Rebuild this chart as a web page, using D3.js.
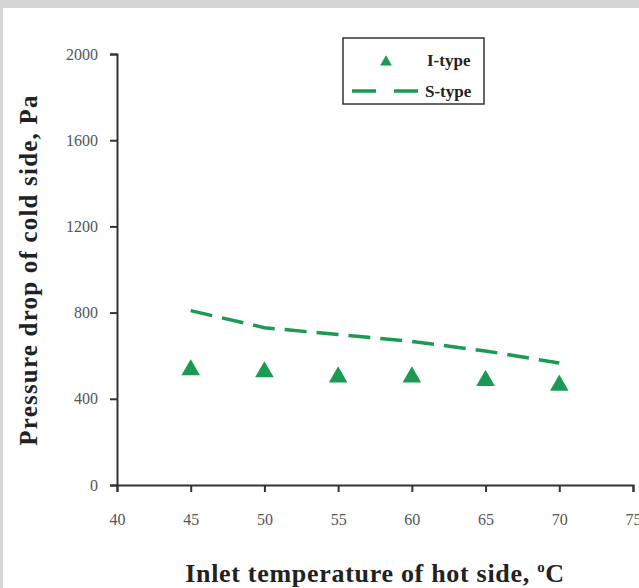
<!DOCTYPE html>
<html>
<head>
<meta charset="utf-8">
<script src="https://cdn.jsdelivr.net/npm/d3@7"></script>
<style>
  body { margin: 0; background: #fff; }
  svg { display: block; }
</style>
</head>
<body>
<div id="chart"></div>
<script>
// temperatures (x) and pressure drops (y)
var temps = [45, 50, 55, 60, 65, 70];
var iType = [543, 534, 510, 510, 494, 472];
var sType = [809, 730, 698, 666, 622, 566];
var xTicks = [40, 45, 50, 55, 60, 65, 70, 75];
var yTicks = [0, 400, 800, 1200, 1600, 2000];

var green = '#1a9a52';

var svg = d3.select('#chart').append('svg').attr('width', 639).attr('height', 588);

// grey frame of the scan
svg.append('rect').attr('width', 639).attr('height', 588).attr('fill', '#d6d6d6');
svg.append('rect').attr('x', 3).attr('y', 8).attr('width', 636).attr('height', 580).attr('fill', '#fff');

var x = d3.scaleLinear().domain([40, 75]).range([117, 633]);
var y = d3.scaleLinear().domain([0, 2000]).range([485, 54]);

// axes
var xAxis = svg.append('g').attr('transform', 'translate(0,' + y(0) + ')')
    .call(d3.axisBottom(x).tickValues(xTicks).tickFormat(d3.format('d')).tickSize(7).tickPadding(22));
var yAxis = svg.append('g').attr('transform', 'translate(' + x(40) + ',0)')
    .call(d3.axisLeft(y).tickValues(yTicks).tickFormat(d3.format('d')).tickSize(7).tickPadding(12));

[xAxis, yAxis].forEach(function(a) {
    a.select('.domain').attr('stroke', '#333').attr('stroke-width', 2);
    a.selectAll('.tick line').attr('stroke', '#333').attr('stroke-width', 2);
    a.selectAll('.tick text').attr('fill', '#555')
        .style('font-family', 'Liberation Serif').style('font-size', '16px');
});

// S-type dashed line
var line = d3.line().x(function(d, i) { return x(temps[i]); }).y(function(d) { return y(d); });
svg.append('path').datum(sType)
    .attr('d', line)
    .attr('fill', 'none')
    .attr('stroke', green)
    .attr('stroke-width', 3.5)
    .attr('stroke-dasharray', '22,10');

// I-type triangles
var tri = d3.symbol().type(d3.symbolTriangle).size(150);
svg.selectAll('path.tri').data(iType).enter()
    .append('path').attr('class', 'tri')
    .attr('d', tri)
    .attr('transform', function(d, i) { return 'translate(' + x(temps[i]) + ',' + (y(d) + 2) + ')'; })
    .attr('fill', green);

// legend
var lg = svg.append('g');
lg.append('rect').attr('x', 343).attr('y', 38).attr('width', 141).attr('height', 66)
    .attr('fill', '#fff').attr('stroke', '#333').attr('stroke-width', 1.5);
lg.append('path').attr('d', d3.symbol().type(d3.symbolTriangle).size(60))
    .attr('transform', 'translate(386,62)').attr('fill', green);
lg.append('line').attr('x1', 352).attr('x2', 418).attr('y1', 91).attr('y2', 91)
    .attr('stroke', green).attr('stroke-width', 3.5).attr('stroke-dasharray', '24,18');
lg.append('text').attr('x', 427).attr('y', 66).text('I-type')
    .style('font-family', 'Liberation Serif').style('font-size', '17px').style('font-weight', 'bold').attr('fill', '#222');
lg.append('text').attr('x', 425).attr('y', 97).text('S-type')
    .style('font-family', 'Liberation Serif').style('font-size', '17px').style('font-weight', 'bold').attr('fill', '#222');

// axis titles
var xt = svg.append('text').attr('x', 375).attr('y', 582).attr('text-anchor', 'middle')
    .style('font-family', 'Liberation Serif').style('font-size', '26px').style('font-weight', 'bold')
    .style('letter-spacing', '0.7px').attr('fill', '#222');
xt.append('tspan').text('Inlet temperature of hot side, ');
xt.append('tspan').attr('dy', -10).style('font-size', '15px').text('o');
xt.append('tspan').attr('dy', 10).text('C');

svg.append('text').attr('transform', 'translate(37,270) rotate(-90)').attr('text-anchor', 'middle')
    .style('font-family', 'Liberation Serif').style('font-size', '25px').style('font-weight', 'bold')
    .style('letter-spacing', '1.2px').attr('fill', '#222')
    .text('Pressure drop of cold side, Pa');
</script>
</body>
</html>
